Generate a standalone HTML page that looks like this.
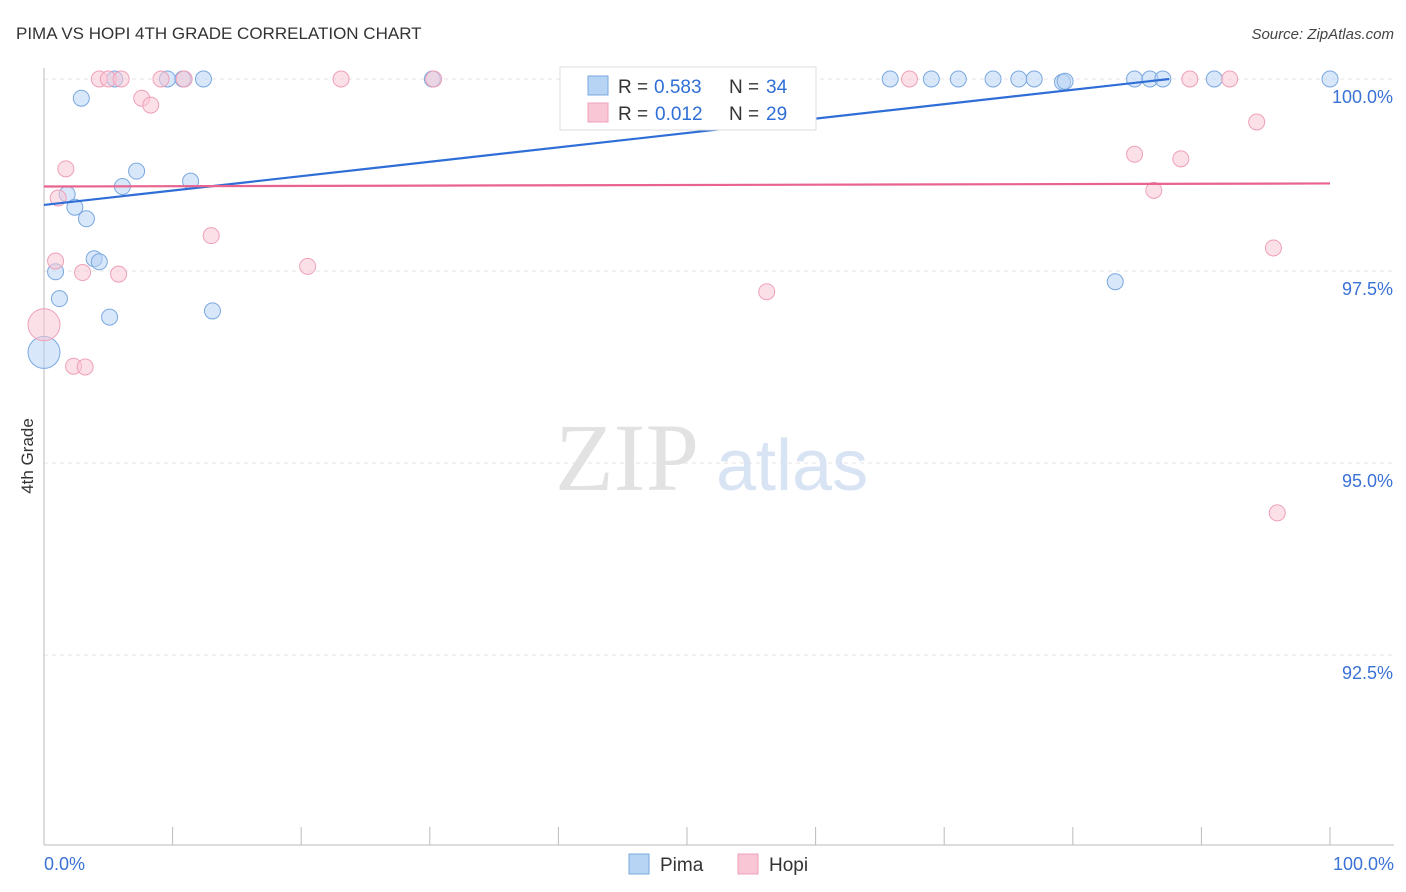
<!DOCTYPE html>
<html><head><meta charset="utf-8"><style>
body{margin:0;background:#fff;font-family:"Liberation Sans",sans-serif;}
svg{display:block}
</style></head><body>
<svg id="c" width="1406" height="892" xmlns="http://www.w3.org/2000/svg">
<text x="16" y="39" font-size="17" fill="#333">PIMA VS HOPI 4TH GRADE CORRELATION CHART</text>
<text x="1394" y="39" font-size="15" fill="#444" text-anchor="end" font-style="italic">Source: ZipAtlas.com</text>
<text transform="translate(33,456) rotate(-90)" font-size="17" fill="#333" text-anchor="middle">4th Grade</text>
<g id="grid"></g>
<text x="555" y="490" font-size="96" fill="#e2e2e2" font-family="Liberation Serif,serif">ZIP</text>
<text x="716" y="490" font-size="72" fill="#d8e4f4">atlas</text>
<g id="marks"></g>
<g>
<rect x="560" y="67" width="256" height="63" fill="#fff" stroke="#ddd"/>
<rect x="588" y="76" width="20" height="19" fill="#b8d4f4" stroke="#7aa8e0"/>
<text x="618" y="93" font-size="19" fill="#333">R =</text>
<text x="654" y="93" font-size="19" fill="#2f6ed6">0.583</text>
<text x="729" y="93" font-size="19" fill="#333">N =</text>
<text x="766" y="93" font-size="19" fill="#2f6ed6">34</text>
<rect x="588" y="103" width="20" height="19" fill="#f9c6d6" stroke="#eea0b8"/>
<text x="618" y="120" font-size="19" fill="#333">R =</text>
<text x="655" y="120" font-size="19" fill="#2f6ed6">0.012</text>
<text x="729" y="120" font-size="19" fill="#333">N =</text>
<text x="766" y="120" font-size="19" fill="#2f6ed6">29</text>
</g>
<g>
<rect x="629" y="854" width="20" height="20" fill="#b8d4f4" stroke="#7aa8e0"/>
<text x="660" y="871" font-size="19" fill="#333">Pima</text>
<rect x="738" y="854" width="20" height="20" fill="#f9c6d6" stroke="#eea0b8"/>
<text x="769" y="871" font-size="19" fill="#333">Hopi</text>
</g>
<text x="44" y="870" font-size="18" fill="#3a72d6">0.0%</text>
<text x="1394" y="870" font-size="18" fill="#3a72d6" text-anchor="end">100.0%</text>
</svg>
<script>
const yTicks=[100,97.5,95,92.5];
const yTickLabels=["100.0%","97.5%","95.0%","92.5%"];
const pimaX=[2.9,5.5,9.6,10.8,12.4,30.2,48.5,65.8,69.0,71.1,73.8,75.8,77.0,79.2,79.4,84.8,86.0,87.0,91.0,100,1.8,2.4,3.3,6.1,7.2,11.4,3.9,4.3,0.9,1.2,5.1,13.1,83.3,0];
const pimaY=[99.75,100,100,100,100,100,100,100,100,100,100,100,100,99.96,99.97,100,100,100,100,100,98.5,98.33,98.18,98.6,98.8,98.67,97.66,97.62,97.49,97.14,96.9,96.98,97.36,96.44];
const pimaR=[8,8,8,8,8,8,8,8,8,8,8,8,8,8,8,8,8,8,8,8,8,8,8,8,8,8,8,8,8,8,8,8,8,16];
const hopiX=[4.3,5.0,6.0,9.1,10.9,23.1,30.3,67.3,89.1,92.2,7.6,8.3,1.7,1.1,13.0,20.5,0.9,3.0,5.8,56.2,84.8,88.4,86.3,94.3,95.6,95.9,0,2.3,3.2];
const hopiY=[100,100,100,100,100,100,100,100,100,100,99.75,99.66,98.83,98.45,97.96,97.56,97.63,97.48,97.46,97.23,99.02,98.96,98.55,99.44,97.8,94.35,96.8,96.26,96.25];
const hopiR=[8,8,8,8,8,8,8,8,8,8,8,8,8,8,8,8,8,8,8,8,8,8,8,8,8,8,16,8,8];
const pimaLine=[[0,98.36],[87.5,100]];
const hopiLine=[[0,98.6],[100,98.64]];
const NS="http://www.w3.org/2000/svg";
const X=v=>44+v/100*1286, Y=v=>79+(100-v)/2.5*192;
const grid=document.getElementById('grid'), marks=document.getElementById('marks');
function mk(tag,at,parent){const e=document.createElementNS(NS,tag);for(const k in at)e.setAttribute(k,at[k]);parent.appendChild(e);return e;}
yTicks.forEach((t,i)=>{
 const l=mk('line',{x1:44,x2:1394,y1:Y(t),y2:Y(t),stroke:'#e4e4e4','stroke-dasharray':'4,4'},grid);
 
 
 const tx=mk('text',{x:1393,y:Y(t)+24,'font-size':18,fill:'#3a72d6','text-anchor':'end'},grid);
 tx.textContent=yTickLabels[i];
 
 
});
const ax=mk('line',{x1:44,x2:1394,y1:845,y2:845,stroke:'#bbb'},grid);


const ay=mk('line',{x1:44,x2:44,y1:68,y2:845,stroke:'#bbb'},grid);


for(let i=0;i<=10;i++){
 const t=mk('line',{x1:X(i*10),x2:X(i*10),y1:827,y2:845,stroke:'#bbb'},grid);
 
 
}
function pts(xs,ys,rs,fill,stroke,name){
 xs.forEach((x,i)=>{
  const c=mk('circle',{cx:X(x),cy:Y(ys[i]),r:rs[i],fill:fill,stroke:stroke,'stroke-width':1,'fill-opacity':0.55},marks);
  
  
 });
}
pts(pimaX,pimaY,pimaR,'#b8d4f4','#7aa8e0','pima-point');
pts(hopiX,hopiY,hopiR,'#f9c6d6','#eea0b8','hopi-point');
const l1=mk('line',{x1:X(pimaLine[0][0]),y1:Y(pimaLine[0][1]),x2:X(pimaLine[1][0]),y2:Y(pimaLine[1][1]),stroke:'#2f6ed6','stroke-width':2.2},marks);


const l2=mk('line',{x1:X(hopiLine[0][0]),y1:Y(hopiLine[0][1]),x2:X(hopiLine[1][0]),y2:Y(hopiLine[1][1]),stroke:'#e8638d','stroke-width':2.2},marks);


</script>
</body></html>
